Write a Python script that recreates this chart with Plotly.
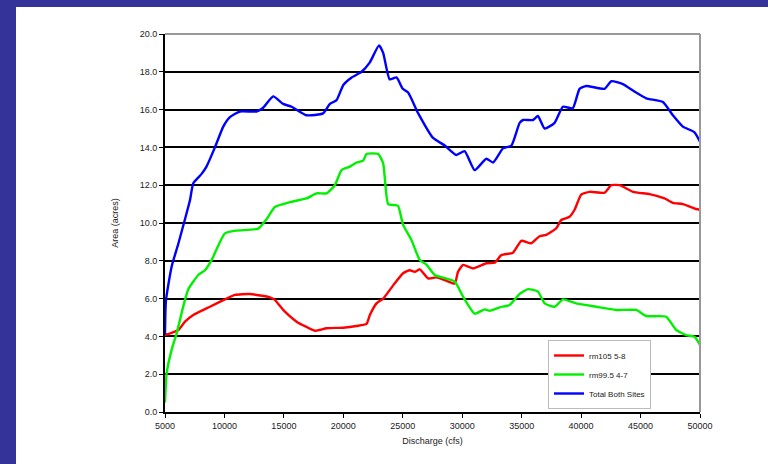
import plotly.graph_objects as go

# ---- data ----
red_x = [5000, 6120, 6680, 7380, 8780, 10180, 10880, 12140, 13820, 14240, 14940, 16070, 16900, 17610,
         18590, 19990, 21110, 21950, 22230, 22790, 23350, 24190, 25030, 25590, 26010, 26430, 27130,
         27830, 28530, 29370, 29650, 30070, 30910, 32030, 32730, 33290, 34270, 34970, 35810, 36510,
         37070, 37910, 38330, 39030, 39450, 40010, 40710, 41970, 42540, 43240, 44360, 45760, 47020,
         47720, 48560, 49680, 50000]
red_y = [4.07, 4.34, 4.78, 5.13, 5.57, 6.0, 6.2, 6.24, 6.07, 5.93, 5.4, 4.78, 4.5, 4.3,
         4.43, 4.46, 4.55, 4.66, 5.13, 5.75, 6.0, 6.7, 7.34, 7.5, 7.42, 7.55, 7.07,
         7.12, 6.98, 6.8, 7.42, 7.78, 7.6, 7.87, 7.9, 8.3, 8.43, 9.06, 8.93, 9.3,
         9.37, 9.72, 10.16, 10.33, 10.7, 11.5, 11.65, 11.6, 12.0, 12.0, 11.65, 11.53, 11.3,
         11.07, 11.0, 10.74, 10.7]

green_x = [5000, 5140, 5560, 5980, 6540, 6960, 7800, 8360, 8920, 10040, 11020, 12840, 13540, 14240,
           15500, 16900, 17750, 18590, 19290, 19850, 20550, 21110, 21670, 21950, 22930, 23350, 23770,
           24330, 24610, 25030, 25730, 26430, 26990, 27690, 29370, 30070, 31050, 31890, 32310, 33150,
           33990, 34830, 35530, 36370, 36930, 37770, 38470, 39590, 41270, 42950, 44630, 45470, 47150,
           48000, 48830, 49540, 50000]
green_y = [0.5, 2.05, 3.3, 4.16, 5.6, 6.5, 7.25, 7.5, 8.04, 9.45, 9.6, 9.7, 10.2, 10.85,
           11.1, 11.3, 11.57, 11.57, 12.0, 12.8, 12.98, 13.2, 13.3, 13.65, 13.65, 13.16, 11.0,
           10.95, 10.9, 9.9, 9.1, 8.04, 7.8, 7.25, 6.9, 6.1, 5.2, 5.43, 5.36, 5.54,
           5.66, 6.25, 6.5, 6.37, 5.75, 5.57, 5.96, 5.75, 5.57, 5.4, 5.4, 5.08, 5.04,
           4.34, 4.07, 3.98, 3.55]

blue_x = [5000, 5080, 5560, 6120, 6680, 7100, 7380, 8080, 8500, 9200, 9900, 10460, 11300, 12700,
          13260, 14100, 14940, 15650, 16900, 18300, 18870, 19430, 20000, 20700, 21530, 22230, 23000,
          23350, 23900, 24470, 25000, 25450, 26300, 27550, 28530, 29500, 30200, 31050, 32030, 32600,
          33430, 34140, 34830, 35120, 35950, 36370, 36930, 37770, 38470, 39300, 39870, 40430, 41970,
          42540, 43510, 44500, 45480, 46880, 47720, 48560, 49540, 50000]
blue_y = [4.1, 5.9, 7.7, 8.9, 10.2, 11.2, 12.1, 12.6, 13.0, 14.0, 15.1, 15.6, 15.9, 15.9,
          16.1, 16.7, 16.3, 16.15, 15.7, 15.8, 16.3, 16.5, 17.3, 17.7, 18.0, 18.5, 19.4,
          19.0, 17.6, 17.7, 17.1, 16.9, 15.8, 14.5, 14.1, 13.6, 13.8, 12.8, 13.4, 13.2,
          13.95, 14.1, 15.3, 15.45, 15.45, 15.66, 15.0, 15.3, 16.15, 16.07, 17.1, 17.25, 17.1,
          17.5, 17.35, 16.95, 16.6, 16.4, 15.7, 15.1, 14.8, 14.3]

series_names = ["rm105 5-8", "rm99.5 4-7", "Total Both Sites"]
x_ticks = [5000, 10000, 15000, 20000, 25000, 30000, 35000, 40000, 45000, 50000]
y_ticks = [0, 2, 4, 6, 8, 10, 12, 14, 16, 18, 20]

# ---- figure ----
W, H = 768, 464
L, R, T, B = 165, 68, 34, 52
pw, ph = W - L - R, H - T - B

fig = go.Figure()
for xs, ys, name, col in [(red_x, red_y, series_names[0], "#FF0000"),
                          (green_x, green_y, series_names[1], "#00F000"),
                          (blue_x, blue_y, series_names[2], "#0000FF")]:
    fig.add_trace(go.Scatter(x=xs, y=ys, name=name, mode="lines",
                             line=dict(color=col, width=2.4, shape="spline", smoothing=0.5)))

font_main = dict(family="Liberation Sans, Arial, sans-serif", size=9, color="#222222")

fig.update_layout(
    width=W, height=H,
    margin=dict(l=L, r=R, t=T, b=B),
    paper_bgcolor="white", plot_bgcolor="white",
    font=font_main,
    showlegend=True,
    legend=dict(x=(548 - L) / pw, y=(H - B - 340) / ph, xanchor="left", yanchor="top",
                bgcolor="white", bordercolor="#BBBBBB", borderwidth=1,
                font=dict(family="Liberation Sans, Arial, sans-serif", size=8, color="#222222"),
                itemwidth=30, tracegroupgap=0),
    xaxis=dict(range=[5000, 50000], tickvals=x_ticks, tickformat="d",
               showgrid=False, zeroline=False,
               showline=True, linecolor="black", linewidth=2,
               ticks="outside", ticklen=4, tickcolor="black", tickwidth=1,
               title=dict(text="Discharge (cfs)", font=font_main, standoff=8)),
    yaxis=dict(range=[0, 20], tickvals=y_ticks, tickformat=".1f",
               showgrid=True, gridcolor="black", gridwidth=2, zeroline=False,
               showline=True, linecolor="black", linewidth=2,
               ticks="outside", ticklen=4, tickcolor="black", tickwidth=1,
               title=dict(text="Area (acres)", font=font_main, standoff=20)),
    shapes=[
        # gray border on top and right of plot area
        dict(type="line", xref="paper", yref="paper", x0=0, x1=1, y0=1, y1=1,
             line=dict(color="#999999", width=2), layer="above"),
        dict(type="line", xref="paper", yref="paper", x0=1, x1=1, y0=0, y1=1,
             line=dict(color="#999999", width=2), layer="above"),
        # navy page frame (left and top)
        dict(type="rect", xref="paper", yref="paper",
             x0=-L / pw - 0.01, x1=(16 - L) / pw, y0=-B / ph - 0.01, y1=(H - T) / ph + 0.01,
             fillcolor="#333399", line=dict(width=0), layer="above"),
        dict(type="rect", xref="paper", yref="paper",
             x0=-L / pw - 0.01, x1=(W - L) / pw + 0.01, y0=(H - B - 7) / ph, y1=(H - B) / ph + 0.01,
             fillcolor="#333399", line=dict(width=0), layer="above"),
    ],
)

fig.write_html("out.html", config={"displayModeBar": False},
               post_script="document.body.style.margin='0';document.body.style.overflow='hidden';")
